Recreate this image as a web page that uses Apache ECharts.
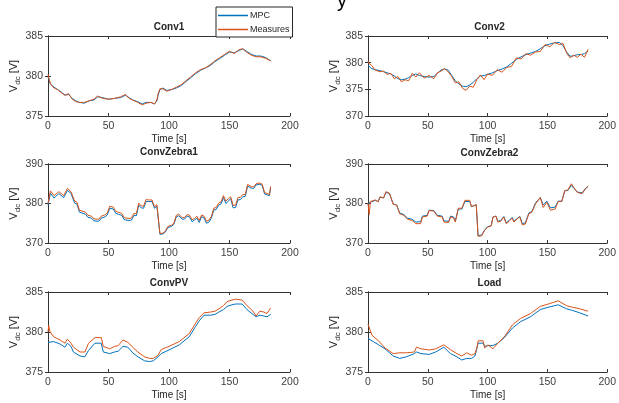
<!DOCTYPE html>
<html>
<head>
<meta charset="utf-8">
<script src="https://cdn.jsdelivr.net/npm/echarts@6/dist/echarts.min.js"></script>
<style>
  html, body { margin: 0; padding: 0; background: #fff; }
  #main { width: 619px; height: 403px; }
</style>
</head>
<body>
<div id="main"></div>
<script>
// ---- data (time in s, Vdc in V) ----
var titles = ['Conv1', 'Conv2', 'ConvZebra1', 'ConvZebra2', 'ConvPV', 'Load'];
var seriesNames = ['MPC', 'Measures'];
var xTickLabels = [0, 50, 100, 150, 200];
// [min, max, interval] for each panel
var yTicks = [[375, 385, 5], [370, 385, 5], [370, 390, 10], [370, 390, 10], [375, 385, 5], [375, 385, 5]];

// Conv1
var t1 = [0, 0.5, 2, 5, 8, 11, 14, 17, 20, 23, 26, 30, 34, 38, 41, 45, 50, 55, 60, 64, 67, 70, 74, 78, 81, 85, 88, 90, 91, 92.5,
  95, 98, 102, 106, 110, 114, 118, 122, 126, 130, 134, 138, 142, 146, 150, 154, 158, 161, 164, 168, 172, 176, 180, 184];
var mpc1 = [379.9, 380.0, 379.0, 378.6, 378.3, 378.0, 377.6, 377.7, 377.2, 376.9, 376.7, 376.6, 376.9, 377.0, 377.4,
  377.3, 377.1, 377.2, 377.3, 377.6, 377.3, 377.0, 376.8, 376.5, 376.7, 376.7, 376.5, 376.9, 377.6, 378.3,
  378.5, 378.2, 378.3, 378.5, 378.8, 379.3, 379.8, 380.3, 380.7, 381.0, 381.3, 381.8, 382.2, 382.6, 383.0,
  382.9, 383.2, 383.4, 383.1, 382.7, 382.5, 382.5, 382.3, 381.9];
var meas1 = [380.2, 380.1, 379.0, 378.5, 378.3, 377.9, 377.6, 377.8, 377.1, 376.8, 376.7, 376.7, 376.9, 377.1, 377.5,
  377.2, 377.1, 377.2, 377.4, 377.7, 377.2, 377.0, 376.7, 376.4, 376.6, 376.7, 376.5, 377.0, 377.8, 378.4,
  378.4, 378.1, 378.3, 378.6, 378.9, 379.4, 379.9, 380.4, 380.8, 381.0, 381.4, 381.9, 382.3, 382.7, 383.1,
  382.8, 383.3, 383.4, 383.0, 382.6, 382.4, 382.4, 382.2, 381.9];

// Conv2
var t2 = [0, 1, 3, 6, 10, 13, 16, 19, 22, 25, 28, 31, 34, 37, 40, 43, 47, 51, 55, 58, 61, 64, 67, 70, 73, 76, 79, 82, 85, 88,
  91, 94, 97, 100, 104, 108, 112, 116, 120, 124, 128, 132, 136, 140, 144, 148, 152, 156, 160, 163, 166, 169, 172, 175, 178, 181, 184];
var mpc2 = [379.5, 379.2, 378.9, 378.7, 378.5, 378.3, 378.1, 377.9, 377.5, 377.0, 376.8, 376.9, 377.2, 377.6, 377.9,
  377.6, 377.4, 377.3, 377.4, 378.0, 378.6, 378.8, 378.6, 377.6, 376.6, 376.0, 375.6, 375.5, 375.8, 376.3,
  377.0, 377.5, 377.6, 377.8, 378.1, 378.5, 378.8, 379.2, 379.9, 380.6, 381.1, 381.5, 381.8, 382.1, 382.6,
  383.2, 383.5, 383.7, 383.8, 383.2, 382.0, 381.2, 381.3, 381.5, 381.5, 381.7, 382.2];
var meas2 = [380.3, 379.8, 379.5, 378.6, 378.3, 378.4, 377.8, 378.0, 377.0, 377.4, 376.4, 376.8, 376.6, 378.0, 377.3,
  378.1, 377.1, 377.6, 377.0, 378.1, 378.4, 378.9, 378.3, 377.4, 376.2, 376.4, 375.2, 374.8, 375.6, 375.4,
  376.8, 377.7, 376.8, 377.9, 377.6, 378.7, 378.2, 379.1, 379.3, 380.9, 380.7, 381.7, 381.4, 382.0, 382.1,
  383.4, 383.0, 383.8, 383.4, 383.6, 381.8, 380.9, 381.4, 381.0, 381.6, 381.0, 382.5];

// ConvZebra1
var t3 = [0, 1, 2, 5, 6, 9, 10, 13, 14, 16, 19, 20, 22, 24, 26, 29, 31, 33, 36, 38, 42, 44, 47, 49, 51, 54, 56, 58, 61, 63,
  67, 69, 71, 73, 75, 77, 79, 81, 83, 86, 88, 90, 91.5, 92.5, 95, 97, 99, 102, 104, 106, 108, 111, 113, 115, 117,
  119, 121, 123, 125, 127, 129, 131, 133, 135, 137, 139, 141, 143, 145, 147, 149, 151, 153, 155, 157, 159, 161, 163,
  165, 168, 170, 172, 175, 177, 179, 181, 183, 184];
var mpc3 = [379.6, 379.4, 382.6, 381.4, 381.2, 382.5, 382.3, 381.5, 381.8, 383.3, 382.6, 382.2, 380.1, 379.8, 377.8,
  377.5, 377.3, 376.5, 376.3, 375.6, 375.5, 376.3, 376.6, 377.1, 378.8, 378.6, 377.5, 377.3, 377.0, 375.9,
  375.7, 375.8, 377.0, 376.9, 379.6, 378.9, 378.8, 380.5, 380.5, 380.5, 378.8, 379.3, 379.7, 372.2, 372.3,
  372.8, 373.9, 374.2, 374.7, 376.6, 376.9, 376.0, 376.1, 376.8, 376.6, 375.4, 375.8, 376.3, 375.2, 376.7,
  376.3, 375.0, 375.3, 376.3, 378.3, 378.5, 379.6, 379.9, 381.5, 380.0, 380.6, 381.2, 378.9, 379.0, 380.9,
  381.0, 381.7, 381.8, 384.4, 383.9, 383.8, 384.7, 384.9, 384.6, 382.4, 382.2, 382.0, 384.0];
var meas3 = [380.0, 379.6, 383.2, 382.0, 381.7, 383.0, 382.8, 382.0, 382.3, 383.8, 383.0, 382.6, 380.6, 380.3, 378.3,
  378.0, 377.8, 377.0, 376.8, 376.1, 376.0, 376.8, 377.1, 377.6, 379.3, 379.1, 378.0, 377.8, 377.5, 376.4,
  376.2, 376.3, 377.5, 377.4, 380.1, 379.4, 379.3, 381.0, 380.9, 380.9, 379.2, 379.7, 380.0, 372.4, 372.5,
  373.0, 374.2, 374.5, 375.0, 377.0, 377.3, 376.4, 376.5, 377.2, 377.0, 375.9, 376.2, 376.8, 375.7, 377.1,
  376.8, 375.5, 375.8, 376.7, 378.8, 379.0, 380.1, 380.4, 382.0, 380.6, 381.2, 381.7, 379.5, 379.6, 381.5,
  381.6, 382.2, 382.3, 384.8, 384.3, 384.2, 385.0, 385.2, 384.9, 382.8, 382.5, 382.3, 384.3];

// ConvZebra2
var t4 = [0, 1, 2, 3.5, 6, 8.5, 10, 13, 15, 18, 21, 24, 26.5, 30, 33, 37, 40, 44, 45.5, 49.5, 51, 55, 58, 62, 63.5,
  67.5, 69, 71.5, 73, 75.5, 78.5, 81, 85, 86.5, 90.5, 92, 95, 97.5, 100, 103, 104.5, 107, 108.5, 111, 113.5,
  115.5, 118, 120.5, 122, 125, 127, 129, 131.5, 134.5, 137, 140, 144, 146.5, 149.5, 152.5, 156.5, 159, 162, 164.5, 167,
  170, 172, 175, 179, 182, 184];
var mpc4 = [380.0, 379.8, 380.3, 380.6, 380.8, 380.5, 381.6, 381.4, 382.8, 382.5, 379.9, 379.6, 377.6, 377.2, 376.3,
  376.0, 375.3, 375.4, 376.8, 377.0, 378.3, 378.2, 377.0, 376.8, 375.6, 375.5, 376.8, 376.6, 375.6, 378.6,
  378.6, 380.5, 380.5, 379.2, 379.7, 371.9, 372.0, 373.3, 374.1, 374.4, 376.6, 376.8, 375.5, 375.7, 376.7,
  375.1, 375.7, 376.5, 375.5, 376.3, 376.7, 374.9, 375.1, 377.6, 378.0, 380.1, 381.5, 379.6, 380.6, 378.9,
  379.1, 380.6, 380.6, 383.2, 383.3, 384.6, 383.9, 382.9, 382.7, 383.9, 384.3];
var meas4 = [380.0, 377.2, 380.5, 380.7, 380.9, 380.4, 381.7, 381.4, 383.0, 382.6, 379.8, 379.6, 377.4, 377.0, 376.0,
  375.7, 374.9, 374.9, 376.6, 376.8, 378.2, 378.1, 376.8, 376.6, 375.3, 375.2, 376.6, 376.4, 375.3, 378.8,
  378.8, 380.8, 380.8, 379.2, 379.7, 371.7, 371.8, 373.2, 374.0, 374.3, 376.6, 376.8, 375.3, 375.5, 376.6,
  374.9, 375.5, 376.3, 375.3, 376.2, 376.6, 374.6, 374.8, 377.4, 377.8, 379.9, 381.5, 379.0, 380.3, 378.3,
  378.6, 380.5, 380.5, 383.3, 383.4, 385.0, 384.1, 382.8, 382.5, 383.8, 384.4];

// ConvPV
var t5 = [0, 0.6, 1.5, 4.7, 10, 14, 16, 19, 21, 26.5, 30.5, 32, 33.5, 38.8, 44, 45.7, 51, 55, 58, 62, 66, 70, 74.3, 79.8, 84,
  87, 91, 93.5, 100, 108.5, 116.7, 122, 125, 129, 134.5, 138, 141.3, 145, 148, 152, 155, 160.4, 164.5, 169.4, 172,
  175, 178.3, 181, 184];
var mpc5 = [378.7, 378.8, 378.8, 378.8, 378.5, 378.1, 378.6, 378.2, 377.5, 377.0, 376.9, 376.9, 377.7, 378.6, 378.6,
  377.5, 377.3, 377.5, 377.6, 378.2, 378.1, 377.4, 376.9, 376.4, 376.3, 376.4, 376.9, 377.3, 377.75, 378.4,
  379.4, 380.7, 381.4, 382.1, 382.1, 382.2, 382.5, 382.8, 383.2, 383.4, 383.5, 383.5, 382.8, 382.2, 381.9,
  382.1, 382.0, 381.9, 382.2];
var meas5 = [380.0, 380.8, 380.1, 379.4, 379.0, 378.6, 379.1, 378.6, 378.1, 377.5, 377.5, 377.6, 378.6, 379.3, 379.3,
  378.2, 377.9, 378.2, 378.3, 379.0, 378.7, 378.1, 377.5, 376.9, 376.7, 376.7, 377.1, 377.8, 378.2, 378.8,
  379.8, 381.1, 381.8, 382.4, 382.5, 382.6, 382.9, 383.3, 383.8, 384.0, 384.1, 384.0, 383.3, 382.6, 382.0,
  382.6, 382.5, 382.3, 383.0];

// Load
var t6 = [0, 0.6, 3.3, 8.8, 14.2, 21.1, 26.5, 32, 38.8, 40.5, 44.3, 51.1, 56.6, 63.4, 68.9, 74.3, 78.4, 82.5, 86.6, 89.4,
  91, 92.1, 96.2, 97.6, 100.3, 104.4, 108.5, 114, 120.8, 127.6, 135.8, 144, 150.8, 159, 165.9, 170.8, 177, 184];
var mpc6 = [379.2, 379.1, 378.9, 378.4, 377.9, 377.0, 376.7, 376.9, 377.3, 377.5, 377.3, 377.2, 377.5, 378.1, 377.3,
  376.9, 376.5, 376.7, 376.7, 377.0, 377.2, 378.6, 378.6, 378.2, 378.3, 378.3, 378.6, 379.3, 380.5, 381.3,
  381.9, 382.8, 383.1, 383.4, 382.9, 382.7, 382.4, 382.0];
var meas6 = [381.0, 380.9, 379.6, 378.9, 378.0, 377.3, 377.4, 377.4, 377.5, 378.1, 377.9, 377.75, 377.9, 378.4, 377.8,
  377.3, 377.0, 377.4, 377.1, 377.3, 378.0, 378.9, 378.9, 378.0, 378.4, 377.9, 378.6, 379.4, 380.9, 381.7,
  382.3, 383.2, 383.5, 383.9, 383.3, 383.1, 382.9, 382.6];

var times = [t1, t2, t3, t4, t5, t6];
var mpcData = [mpc1, mpc2, mpc3, mpc4, mpc5, mpc6];
var measData = [meas1, meas2, meas3, meas4, meas5, meas6];

// ---- layout (pixels) ----
var boxes = [
  { left: 48, top: 36, width: 242, height: 80, titleY: 22 },
  { left: 368, top: 36, width: 243, height: 80, titleY: 22 },
  { left: 48, top: 164, width: 242, height: 79, titleY: 147 },
  { left: 368, top: 164, width: 243, height: 79, titleY: 148 },
  { left: 48, top: 292, width: 242, height: 80, titleY: 278 },
  { left: 368, top: 292, width: 243, height: 80, titleY: 278 }
];

var FONT = 'Liberation Sans, Arial, sans-serif';
var AX = '#333333';
var BLUE = '#0072BD', ORANGE = '#D95319';

function pairs(t, v) {
  return t.map(function (x, i) { return [x, v[i]]; });
}

var grids = [], xAxes = [], yAxes = [], series = [], titleList = [];

boxes.forEach(function (b, i) {
  grids.push({ left: b.left, top: b.top, width: b.width, height: b.height, containLabel: false });
  titleList.push({
    text: titles[i], left: b.left + b.width / 2, top: b.titleY, textAlign: 'center', padding: 0,
    textStyle: { fontFamily: FONT, fontSize: 10, fontWeight: 'bold', color: '#262626' }
  });
  var lineStyle = { lineStyle: { color: AX, width: 1 } };
  // bottom axis with labels
  xAxes.push({
    type: 'value', gridIndex: i, position: 'bottom',
    min: xTickLabels[0], max: xTickLabels[xTickLabels.length - 1], interval: xTickLabels[1] - xTickLabels[0],
    name: 'Time [s]', nameLocation: 'middle', nameGap: 18,
    nameTextStyle: { fontFamily: FONT, fontSize: 10, color: '#262626' },
    axisLine: lineStyle, axisTick: { inside: true, length: 3, lineStyle: { color: AX } },
    axisLabel: { fontFamily: FONT, fontSize: 10.5, color: '#404040', margin: 5 },
    splitLine: { show: false }
  });
  // top axis: box edge with ticks only
  xAxes.push({
    type: 'value', gridIndex: i, position: 'top',
    min: xTickLabels[0], max: xTickLabels[xTickLabels.length - 1], interval: xTickLabels[1] - xTickLabels[0],
    axisLine: lineStyle, axisTick: { inside: true, length: 3, lineStyle: { color: AX } },
    axisLabel: { show: false }, splitLine: { show: false }
  });
  var yt = yTicks[i];
  yAxes.push({
    type: 'value', gridIndex: i, position: 'left', min: yt[0], max: yt[1], interval: yt[2],
    name: '{a|V}{b|dc}{a| [V]}', nameLocation: 'middle', nameGap: 25,
    nameTextStyle: {
      fontFamily: FONT, color: '#262626',
      rich: {
        a: { fontFamily: FONT, fontSize: 11, color: '#262626' },
        b: { fontFamily: FONT, fontSize: 8, color: '#262626', padding: [7, 0, 0, 0] }
      }
    },
    axisLine: { show: true, lineStyle: { color: AX, width: 1 } },
    axisTick: { show: true, inside: true, length: 3, lineStyle: { color: AX } },
    axisLabel: { fontFamily: FONT, fontSize: 10.5, color: '#404040', margin: 5 },
    splitLine: { show: false }
  });
  yAxes.push({
    type: 'value', gridIndex: i, position: 'right', min: yt[0], max: yt[1], interval: yt[2],
    axisLine: { show: true, lineStyle: { color: AX, width: 1 } },
    axisTick: { show: true, inside: true, length: 3, lineStyle: { color: AX } },
    axisLabel: { show: false }, splitLine: { show: false }
  });
  series.push({
    name: seriesNames[0], type: 'line', xAxisIndex: 2 * i, yAxisIndex: 2 * i,
    data: pairs(times[i], mpcData[i]), symbol: 'none', showSymbol: false,
    lineStyle: { color: BLUE, width: 1 }, itemStyle: { color: BLUE }
  });
  series.push({
    name: seriesNames[1], type: 'line', xAxisIndex: 2 * i, yAxisIndex: 2 * i,
    data: pairs(times[i], measData[i]), symbol: 'none', showSymbol: false,
    lineStyle: { color: ORANGE, width: 1 }, itemStyle: { color: ORANGE }
  });
});

var chart = echarts.init(document.getElementById('main'), null, { renderer: 'canvas' });
chart.setOption({
  animation: false,
  backgroundColor: '#fff',
  title: titleList,
  legend: {
    data: seriesNames, orient: 'vertical', left: 216, top: 7,
    icon: 'rect', itemWidth: 30, itemHeight: 1.5, itemGap: 5,
    padding: [4, 3, 3, 2], borderColor: '#262626', borderWidth: 1, backgroundColor: '#fff',
    textStyle: { fontFamily: FONT, fontSize: 9, color: '#262626', padding: [0, 0, 0, -3] }
  },
  graphic: [{
    type: 'text', left: 337, top: -9,
    style: { text: 'y', fontFamily: FONT, fontSize: 20, fill: '#000' }
  }],
  grid: grids,
  xAxis: xAxes,
  yAxis: yAxes,
  series: series
});
</script>
</body>
</html>
